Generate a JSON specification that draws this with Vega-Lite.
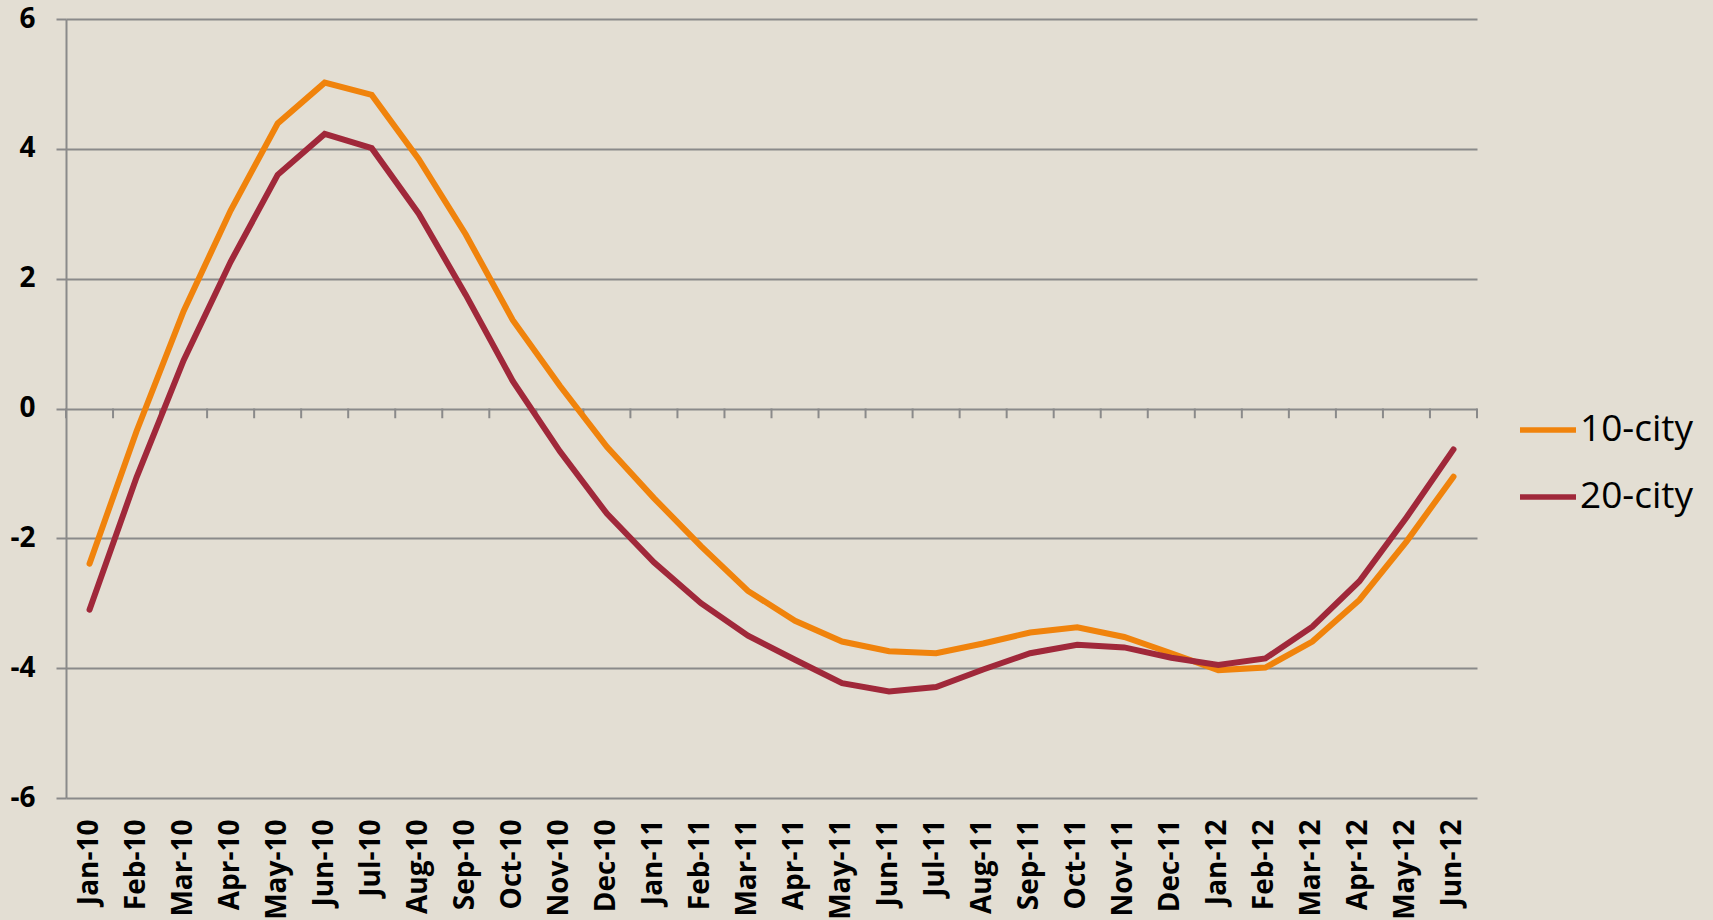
{
  "$schema": "https://vega.github.io/schema/vega-lite/v6.json",
  "width": 1411,
  "height": 779,
  "autosize": {"type": "none"},
  "padding": {"left": 66, "top": 19, "right": 236, "bottom": 122},
  "background": "#E3DED3",
  "datasets": {
    "d": [
      {"month": "Jan-10", "series": "10-city", "value": -2.39},
      {"month": "Feb-10", "series": "10-city", "value": -0.35},
      {"month": "Mar-10", "series": "10-city", "value": 1.50},
      {"month": "Apr-10", "series": "10-city", "value": 3.05},
      {"month": "May-10", "series": "10-city", "value": 4.39},
      {"month": "Jun-10", "series": "10-city", "value": 5.02},
      {"month": "Jul-10", "series": "10-city", "value": 4.83},
      {"month": "Aug-10", "series": "10-city", "value": 3.84},
      {"month": "Sep-10", "series": "10-city", "value": 2.68},
      {"month": "Oct-10", "series": "10-city", "value": 1.36},
      {"month": "Nov-10", "series": "10-city", "value": 0.35},
      {"month": "Dec-10", "series": "10-city", "value": -0.59},
      {"month": "Jan-11", "series": "10-city", "value": -1.38},
      {"month": "Feb-11", "series": "10-city", "value": -2.12},
      {"month": "Mar-11", "series": "10-city", "value": -2.81},
      {"month": "Apr-11", "series": "10-city", "value": -3.27},
      {"month": "May-11", "series": "10-city", "value": -3.59},
      {"month": "Jun-11", "series": "10-city", "value": -3.74},
      {"month": "Jul-11", "series": "10-city", "value": -3.77},
      {"month": "Aug-11", "series": "10-city", "value": -3.62},
      {"month": "Sep-11", "series": "10-city", "value": -3.45},
      {"month": "Oct-11", "series": "10-city", "value": -3.37},
      {"month": "Nov-11", "series": "10-city", "value": -3.52},
      {"month": "Dec-11", "series": "10-city", "value": -3.77},
      {"month": "Jan-12", "series": "10-city", "value": -4.03},
      {"month": "Feb-12", "series": "10-city", "value": -3.99},
      {"month": "Mar-12", "series": "10-city", "value": -3.59},
      {"month": "Apr-12", "series": "10-city", "value": -2.95},
      {"month": "May-12", "series": "10-city", "value": -2.05},
      {"month": "Jun-12", "series": "10-city", "value": -1.05},
      {"month": "Jan-10", "series": "20-city", "value": -3.10},
      {"month": "Feb-10", "series": "20-city", "value": -1.06},
      {"month": "Mar-10", "series": "20-city", "value": 0.74},
      {"month": "Apr-10", "series": "20-city", "value": 2.26},
      {"month": "May-10", "series": "20-city", "value": 3.60},
      {"month": "Jun-10", "series": "20-city", "value": 4.23},
      {"month": "Jul-10", "series": "20-city", "value": 4.01},
      {"month": "Aug-10", "series": "20-city", "value": 3.00},
      {"month": "Sep-10", "series": "20-city", "value": 1.75},
      {"month": "Oct-10", "series": "20-city", "value": 0.42},
      {"month": "Nov-10", "series": "20-city", "value": -0.66},
      {"month": "Dec-10", "series": "20-city", "value": -1.62},
      {"month": "Jan-11", "series": "20-city", "value": -2.37},
      {"month": "Feb-11", "series": "20-city", "value": -3.00},
      {"month": "Mar-11", "series": "20-city", "value": -3.50},
      {"month": "Apr-11", "series": "20-city", "value": -3.87},
      {"month": "May-11", "series": "20-city", "value": -4.23},
      {"month": "Jun-11", "series": "20-city", "value": -4.36},
      {"month": "Jul-11", "series": "20-city", "value": -4.29},
      {"month": "Aug-11", "series": "20-city", "value": -4.02},
      {"month": "Sep-11", "series": "20-city", "value": -3.77},
      {"month": "Oct-11", "series": "20-city", "value": -3.64},
      {"month": "Nov-11", "series": "20-city", "value": -3.68},
      {"month": "Dec-11", "series": "20-city", "value": -3.84},
      {"month": "Jan-12", "series": "20-city", "value": -3.95},
      {"month": "Feb-12", "series": "20-city", "value": -3.85},
      {"month": "Mar-12", "series": "20-city", "value": -3.36},
      {"month": "Apr-12", "series": "20-city", "value": -2.66},
      {"month": "May-12", "series": "20-city", "value": -1.68},
      {"month": "Jun-12", "series": "20-city", "value": -0.63}
    ]
  },
  "data": {"name": "d"},
  "layer": [
    {
      "transform": [{"filter": "datum.series == '10-city'"}],
      "mark": {"type": "rule", "color": "#8A8A8A", "strokeWidth": 2},
      "encoding": {
        "x": {"field": "month", "type": "ordinal", "bandPosition": 0, "title": null, "sort": null},
        "y": {"datum": 0, "type": "quantitative", "title": null, "axis": {"values": [-6, -4, -2, 0, 2, 4, 6]}},
        "y2": {"datum": -0.15}
      }
    },
    {
      "transform": [{"filter": "datum.series == '10-city' && datum.month == 'Jun-12'"}],
      "mark": {"type": "rule", "color": "#8A8A8A", "strokeWidth": 2},
      "encoding": {
        "x": {"field": "month", "type": "ordinal", "bandPosition": 1, "title": null, "sort": null},
        "y": {"datum": 0, "type": "quantitative", "title": null, "axis": {"values": [-6, -4, -2, 0, 2, 4, 6]}},
        "y2": {"datum": -0.15}
      }
    },
    {
      "mark": {"type": "line", "strokeWidth": 6, "strokeCap": "round", "strokeJoin": "miter"},
      "encoding": {
        "x": {"field": "month", "type": "ordinal", "bandPosition": 0.5, "title": null, "sort": null,
              "scale": {"type": "band", "paddingInner": 0, "paddingOuter": 0}},
        "y": {"field": "value", "type": "quantitative", "title": null,
              "axis": {"values": [-6, -4, -2, 0, 2, 4, 6]},
              "scale": {"domain": [-6, 6], "nice": false, "zero": false}},
        "color": {"field": "series", "type": "nominal", "title": null,
                  "scale": {"domain": ["10-city", "20-city"], "range": ["#F0830C", "#A0283A"]}}
      }
    }
  ],
  "config": {
    "view": {"stroke": null},
    "axisX": {
      "domain": false, "ticks": false, "grid": false,
      "labelAngle": 270, "labelAlign": "right", "labelBaseline": "middle",
      "labelPadding": 21, "labelFont": "Open Sans", "labelFontWeight": "bold",
      "labelFontSize": 28, "labelColor": "#000000", "labelOverlap": false, "labelBound": false
    },
    "axisY": {
      "labelExpr": "'' + datum.value",
      "domain": true, "domainColor": "#8A8A8A", "domainWidth": 2,
      "ticks": true, "tickColor": "#8A8A8A", "tickWidth": 2, "tickSize": 10,
      "grid": true, "gridColor": "#8A8A8A", "gridWidth": 2,
      "labelPadding": 21, "labelFont": "Open Sans", "labelFontWeight": "bold",
      "labelFontSize": 28, "labelColor": "#000000", "labelOverlap": false, "labelBound": false
    },
    "legend": {
      "orient": "none", "legendX": 1451, "legendY": 380,
      "symbolType": "stroke", "symbolSize": 3136, "symbolStrokeWidth": 5.5,
      "labelFont": "Open Sans", "labelFontSize": 37, "labelColor": "#000000",
      "labelOffset": 1, "rowPadding": 18, "padding": 0, "title": null
    }
  }
}
